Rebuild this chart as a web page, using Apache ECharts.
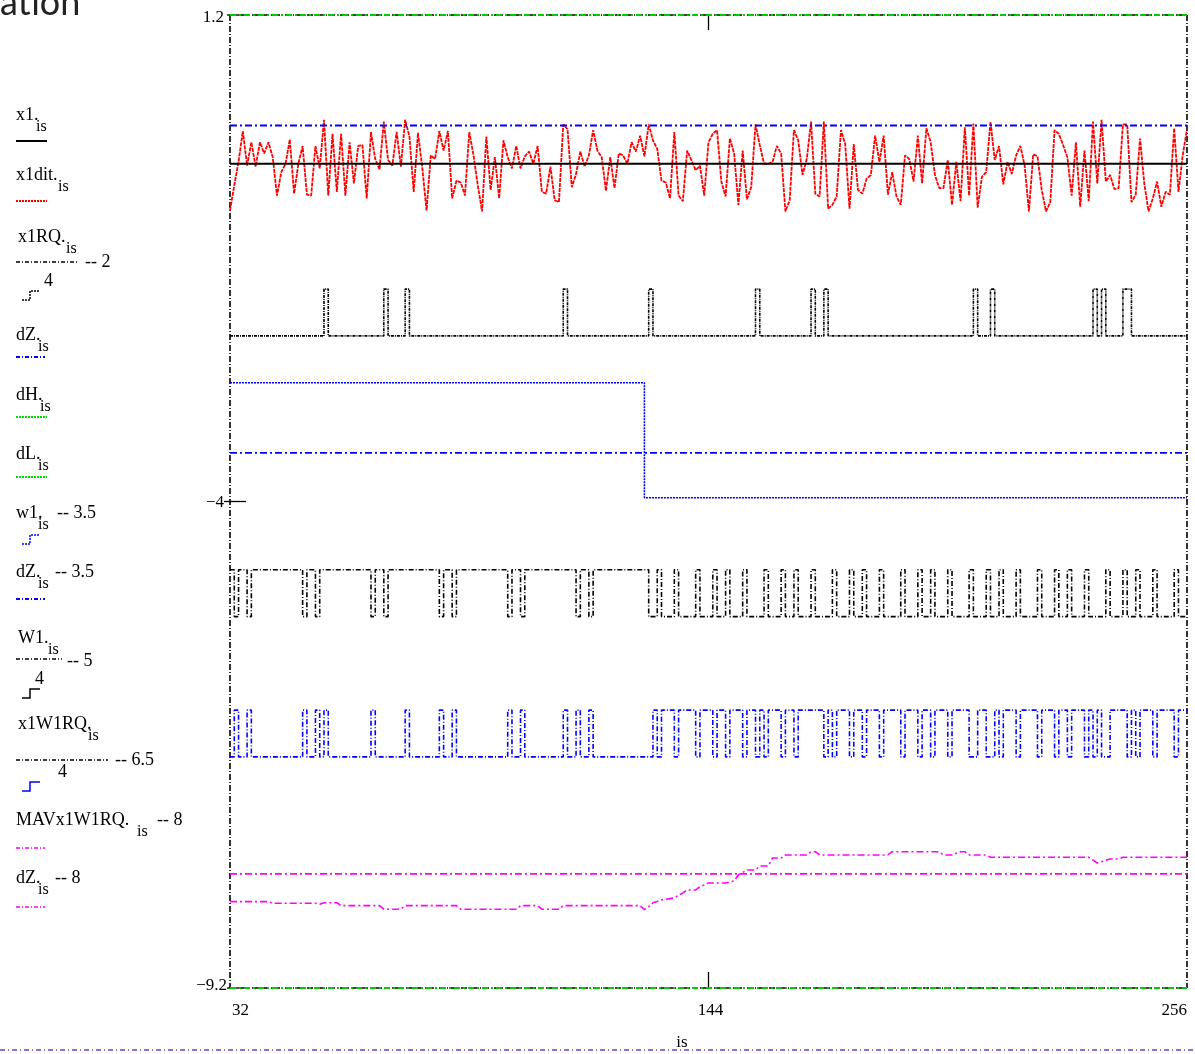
<!DOCTYPE html>
<html><head><meta charset="utf-8">
<script src="https://cdn.jsdelivr.net/npm/echarts@6/dist/echarts.min.js"></script>
<style>html,body{margin:0;padding:0;background:#fff;}#c{width:1195px;height:1054px;}</style>
</head><body><div id="c"></div>
<script>
// ---------------- DATA ----------------
const isStart = 32, isEnd = 256;
const xTickLabels = [32, 144, 256];
const yTickLabels = [1.2, -4, -9.2];
const x1Value = -0.39;
const dZValue = 0.02;
const dHValue = 1.2;
const dLValue = -9.2;
const qLevels = [-0.23, 0.27];          // two quantizer output levels (bit 0 / bit 1)

const x1dit = [
 -0.89,-0.62,-0.37,-0.04,-0.41,-0.16,-0.42,-0.16,-0.28,-0.16,-0.32,-0.73,-0.48,-0.39,-0.13,-0.71,
 -0.39,-0.20,-0.72,-0.73,-0.20,-0.44, 0.08,-0.73,-0.07,-0.69,-0.07,-0.73,-0.16,-0.60,-0.20,-0.19,
 -0.76,-0.05,-0.34,-0.45, 0.06,-0.35,-0.41,-0.05,-0.42, 0.08,-0.10,-0.69,-0.06,-0.43,-0.89,-0.30,
 -0.34,-0.04,-0.25,-0.04,-0.76,-0.57,-0.59,-0.73,-0.05,-0.30,-0.62,-0.90,-0.10,-0.67,-0.32,-0.76,
 -0.14,-0.32,-0.44,-0.20,-0.44,-0.31,-0.26,-0.39,-0.20,-0.69,-0.71,-0.42,-0.78,-0.80, 0.03,-0.02,
 -0.64,-0.50,-0.26,-0.42,-0.30,-0.03,-0.25,-0.32,-0.68,-0.32,-0.65,-0.28,-0.30,-0.39,-0.16,-0.26,
 -0.09,-0.31, 0.03,-0.14,-0.23,-0.57,-0.59,-0.76,-0.05,-0.73,-0.79,-0.25,-0.35,-0.46,-0.41,-0.73,
 -0.16,-0.07,-0.03,-0.58,-0.74,-0.12,-0.28,-0.83,-0.25,-0.77,-0.64, 0.03,-0.19,-0.39,-0.39,-0.37,
 -0.20,-0.28,-0.90,-0.78,-0.03,-0.14,-0.51,-0.34, 0.06,-0.71,-0.74, 0.06,-0.87,-0.83,-0.74,-0.03,
 -0.18,-0.87,-0.18,-0.67,-0.71,-0.55,-0.51,-0.09,-0.37,-0.09,-0.72,-0.48,-0.74,-0.83,-0.30,-0.34,
 -0.58,-0.09,-0.60,-0.01,-0.16,-0.51,-0.65,-0.65,-0.35,-0.83,-0.37,-0.79, 0.00,-0.73, 0.04,-0.86,
 -0.53,-0.48, 0.06,-0.35,-0.20,-0.61,-0.37,-0.50,-0.30,-0.20,-0.41,-0.90,-0.29,-0.31,-0.67,-0.90,
 -0.80,-0.03,-0.07,-0.19,-0.32,-0.73,-0.16,-0.85,-0.25,-0.79, 0.06,-0.60, 0.08,-0.58,-0.51,-0.66,
 -0.65, 0.03, 0.03,-0.80,-0.72,-0.12,-0.60,-0.90,-0.76,-0.58,-0.85,-0.69,-0.72,-0.01,-0.69,-0.30,
 -0.02
];
const x1RQbits = [
 0,0,0,0,0,0,0,0,0,0,0,0,0,0,0,0,
 0,0,0,0,0,0,1,0,0,0,0,0,0,0,0,0,
 0,0,0,0,1,0,0,0,0,1,0,0,0,0,0,0,
 0,0,0,0,0,0,0,0,0,0,0,0,0,0,0,0,
 0,0,0,0,0,0,0,0,0,0,0,0,0,0,1,0,
 0,0,0,0,0,0,0,0,0,0,0,0,0,0,0,0,
 0,0,1,0,0,0,0,0,0,0,0,0,0,0,0,0,
 0,0,0,0,0,0,0,0,0,0,0,1,0,0,0,0,
 0,0,0,0,0,0,0,0,1,0,0,1,0,0,0,0,
 0,0,0,0,0,0,0,0,0,0,0,0,0,0,0,0,
 0,0,0,0,0,0,0,0,0,0,0,0,0,0,1,0,
 0,0,1,0,0,0,0,0,0,0,0,0,0,0,0,0,
 0,0,0,0,0,0,0,0,0,0,1,0,1,0,0,0,
 0,1,1,0,0,0,0,0,0,0,0,0,0,0,0,0,
 0
];
const W1bits = [
 1,0,1,1,0,1,1,1,1,1,1,1,1,1,1,1,
 1,0,1,1,0,1,1,1,1,1,1,1,1,1,1,1,
 1,0,1,1,0,1,1,1,1,1,1,1,1,1,1,1,
 1,0,1,1,0,1,1,1,1,1,1,1,1,1,1,1,
 1,0,1,1,0,1,1,1,1,1,1,1,1,1,1,1,
 1,0,1,1,0,1,1,1,1,1,1,1,1,1,1,1,
 1,1,0,0,1,0,0,0,1,0,0,0,0,1,0,0,
 0,1,0,0,1,0,0,0,1,0,0,0,0,1,0,0,
 0,1,0,0,1,0,0,0,1,0,0,0,0,1,0,0,
 0,1,0,0,1,0,0,0,1,0,0,0,0,1,0,0,
 0,1,0,0,1,0,0,0,1,0,0,0,0,1,0,0,
 0,1,0,0,1,0,0,0,1,0,0,0,0,1,0,0,
 0,1,0,0,1,0,0,0,1,0,0,0,0,1,0,0,
 0,1,0,0,1,0,0,0,1,0,0,0,0,1,0,0,
 0
];
const x1W1RQbits = [
 0,1,0,0,1,0,0,0,0,0,0,0,0,0,0,0,
 0,1,0,0,1,0,1,0,0,0,0,0,0,0,0,0,
 0,1,0,0,0,0,0,0,0,1,0,0,0,0,0,0,
 0,1,0,0,1,0,0,0,0,0,0,0,0,0,0,0,
 0,1,0,0,1,0,0,0,0,0,0,0,0,0,1,0,
 0,1,0,0,1,0,0,0,0,0,0,0,0,0,0,0,
 0,0,0,1,0,1,1,1,0,1,1,1,1,0,1,1,
 1,0,1,1,0,1,1,1,0,1,1,0,1,0,1,1,
 1,0,1,1,0,1,1,1,1,1,1,0,1,0,1,1,
 1,0,1,1,0,1,1,1,0,1,1,1,1,0,1,1,
 1,0,1,1,0,1,1,1,0,1,1,1,1,0,0,1,
 1,0,0,1,0,1,1,1,0,1,1,1,1,0,1,1,
 1,0,1,1,0,1,1,1,0,1,0,1,0,0,1,1,
 1,1,0,1,0,1,1,1,0,1,1,1,1,0,1,1,
 1
];
const w1Is  = [32, 129, 256];
const w1Val = [0.77, -0.46, -0.46];
const mavIs  = [32,41,42,52,53,54,57,58,67,68,72,73,85,86,99,100,104,105,109,110,128,129,130,131,132,133,135,136,137,138,139,141,142,143,144,148,150,151,153,155,156,158,159,161,162,167,168,169,170,186,187,198,199,201,203,204,205,209,210,233,235,236,238,240,241,256];
const mavVal = [-0.277,-0.277,-0.294,-0.294,-0.305,-0.288,-0.288,-0.32,-0.32,-0.358,-0.358,-0.32,-0.32,-0.358,-0.358,-0.32,-0.32,-0.358,-0.358,-0.32,-0.32,-0.363,-0.33,-0.29,-0.275,-0.258,-0.245,-0.237,-0.21,-0.184,-0.152,-0.152,-0.117,-0.098,-0.077,-0.077,-0.056,0.008,0.061,0.061,0.104,0.104,0.19,0.19,0.222,0.222,0.257,0.257,0.222,0.222,0.257,0.257,0.222,0.222,0.257,0.257,0.222,0.222,0.197,0.197,0.136,0.15,0.179,0.179,0.197,0.197];
const off = {x1RQ:-2, w1:-3.5, dZ2:-3.5, W1:-5, x1W1RQ:-6.5, MAV:-8, dZ3:-8};

// ---------------- CHART ----------------
const isArr = x1dit.map((v, i) => isStart + i);
const chart = echarts.init(document.getElementById('c'));
const FONT = '"Liberation Serif", "Times New Roman", serif';
function ln(data, color, width, type, step, z) {
  return {type:'line', data, symbol:'none', showSymbol:false, step: step || false, clip:false,
          lineStyle:{color, width, type}, z: z || 2, silent:true, animation:false};
}
const flat = (v) => [[isStart, v], [isEnd, v]];
const DD = [7,3,2,3];
const series = [
  ln(isArr.map((k,i)=>[k, x1dit[i]]), '#ff0000', 1.8, [4,1], false, 2),
  ln(flat(x1Value), '#000000', 1.8, 'solid', false, 3),
  ln(isArr.map((k,i)=>[k, qLevels[x1RQbits[i]] + off.x1RQ]), '#000000', 1.6, [3,1,1,1], 'end', 2),
  ln(flat(dZValue), '#0000ff', 2, DD, false, 3),
  ln(flat(dHValue), '#00cc00', 2, [6,3,2,3], false, 4),
  ln(flat(dLValue), '#00cc00', 2, [6,3,2,3], false, 4),
  ln(w1Is.map((k,i)=>[k, w1Val[i] + off.w1]), '#0000ff', 1.6, [2,1], 'end', 2),
  ln(flat(dZValue + off.dZ2), '#0000ff', 1.6, DD, false, 2),
  ln(isArr.map((k,i)=>[k, qLevels[W1bits[i]] + off.W1]), '#000000', 1.6, [5,2,1,2], 'end', 2),
  ln(isArr.map((k,i)=>[k, qLevels[x1W1RQbits[i]] + off.x1W1RQ]), '#0000ff', 1.6, [5,2,1,2], 'end', 2),
  ln(mavIs.map((k,i)=>[k, mavVal[i] + off.MAV]), '#ff00ff', 1.6, DD, false, 2),
  ln(flat(dZValue + off.dZ3), '#ff00ff', 1.6, DD, false, 2)
];
const hiddenAxis = {axisLine:{show:false}, axisTick:{show:false}, axisLabel:{show:false}, splitLine:{show:false}};
chart.setOption({
  animation:false,
  backgroundColor:'#ffffff',
  grid:{left:230, top:15, width:957, height:973},
  xAxis:Object.assign({type:'value', min:isStart, max:isEnd}, hiddenAxis),
  yAxis:Object.assign({type:'value', min:yTickLabels[2], max:yTickLabels[0]}, hiddenAxis),
  series
});

// ---------------- DECORATION ----------------
const P = (x, y) => chart.convertToPixel({gridIndex:0}, [x, y]);
const g = [];
const [L, T] = P(isStart, yTickLabels[0]);
const [R, B] = P(isEnd, yTickLabels[2]);
const line = (x1, y1, x2, y2, stroke, w, dash, z) => g.push({type:'line', silent:true, z: z||1,
  shape:{x1, y1, x2, y2}, style:{stroke, lineWidth:w, lineDash:dash || null}});
const text = (t, x, y, size, align, color, font) => g.push({type:'text', silent:true, z:10,
  style:{text:t, x, y, font: size + 'px ' + (font || FONT), fill: color || '#000', align: align || 'left', verticalAlign:'middle'}});
// frame
line(L, T, L, B, '#000', 1.6, [6,2,1,2]);
line(R, T, R, B, '#000', 1.6, [6,2,1,2]);
line(L, T, R, T, '#000', 1.6, [6,2,1,2], 0);
line(L, B, R, B, '#000', 1.6, [6,2,1,2], 0);
// ticks
const [tx] = P(xTickLabels[1], 0);
line(tx, B, tx, B - 16, '#000', 1.3);
line(tx, T, tx, T + 15, '#000', 1.3);
const [, ty] = P(isStart, yTickLabels[1]);
line(L - 6, ty, L + 16, ty, '#000', 1.3);
line(L - 3, T, L + 8, T, '#000', 1.3);
line(L - 3, B, L + 8, B, '#000', 1.3);
// tick labels
const fmt = v => (v < 0 ? '\u2212' : '') + Math.abs(v);
text(fmt(yTickLabels[0]), L - 6, T + 3, 17, 'right');
text(fmt(yTickLabels[1]), L - 6, ty + 1, 17, 'right');
text(fmt(yTickLabels[2]), L - 3, B - 2, 17, 'right');
text(String(xTickLabels[0]), L + 2, B + 23, 17, 'left');
text(String(xTickLabels[1]), tx + 2, B + 23, 17, 'center');
text(String(xTickLabels[2]), R, B + 23, 17, 'right');
text('is', 682, 1043, 17, 'center');
line(0, 1050, 1195, 1050, '#6a3fc4', 1.3, [5,3,1,3]);
// cut title
g.push({type:'text', silent:true, style:{text:'ation', x:0, y:21, font:'36px "Lato", "DejaVu Sans", sans-serif', fill:'#222', align:'left', verticalAlign:'bottom'}});

// legend
function stepIcon(x, y, color, dash) {
  g.push({type:'polyline', silent:true, shape:{points:[[x, y+9],[x+8, y+9],[x+8, y],[x+18, y]]},
          style:{stroke:color, lineWidth:1.5, fill:null, lineDash:dash}});
}
const legend = [
  {t:'x1.', y:115, sx:36, sample:{y:141, x2:47, c:'#000', d:null, w:2}},
  {t:'x1dit.', y:175, sx:58, sample:{y:201, x2:47, c:'#ff0000', d:[2,1], w:2}},
  {t:'x1RQ.', y:237, sx:66, x:18, sample:{y:262, x2:78, c:'#000', d:[4,2,1,2], w:1.5}, extra:{t:'-- 2', x:85, y:262}, four:{x:44, y:281}, step:{x:22, y:291, c:'#000', d:[2,1]}},
  {t:'dZ.', y:335, sx:38, sample:{y:357, x2:45, c:'#0000ff', d:[4,2,1,2], w:2}},
  {t:'dH.', y:395, sx:40, sample:{y:417, x2:47, c:'#00dd00', d:[2,1], w:2}},
  {t:'dL.', y:454, sx:38, sample:{y:477, x2:47, c:'#00dd00', d:[2,1], w:2}},
  {t:'w1.', y:513, sx:38, extra:{t:'-- 3.5', x:57, y:513}, step:{x:22, y:535, c:'#0000ff', d:[2,1]}},
  {t:'dZ.', y:572, sx:38, extra:{t:'-- 3.5', x:55, y:572}, sample:{y:599, x2:45, c:'#0000ff', d:[4,2,1,2], w:2}},
  {t:'W1.', y:638, sx:48, x:18, sample:{y:659, x2:62, c:'#000', d:[4,2,1,2], w:1.5}, extra:{t:'-- 5', x:67, y:661}, four:{x:35, y:679}, step:{x:22, y:689, c:'#000', d:null}},
  {t:'x1W1RQ.', y:724, sx:88, x:18, sample:{y:760, x2:108, c:'#000', d:[4,2,1,2], w:1.5}, extra:{t:'-- 6.5', x:115, y:760}, four:{x:58, y:772}, step:{x:22, y:782, c:'#0000ff', d:null}},
  {t:'MAVx1W1RQ.', y:820, sx:137, extra:{t:'-- 8', x:157, y:820}, sample:{y:848, x2:45, c:'#ff00ff', d:[4,2,1,2], w:1.5}},
  {t:'dZ.', y:878, sx:38, extra:{t:'-- 8', x:55, y:878}, sample:{y:907, x2:45, c:'#ff00ff', d:[4,2,1,2], w:1.5}}
];
legend.forEach(it => {
  text(it.t, it.x || 16, it.y, 18, 'left');
  text('is', it.sx, it.y + 12, 16, 'left');
  if (it.sample) line(16, it.sample.y, it.sample.x2, it.sample.y, it.sample.c, it.sample.w, it.sample.d, 5);
  if (it.extra) text(it.extra.t, it.extra.x, it.extra.y, 18, 'left');
  if (it.four) text('4', it.four.x, it.four.y, 18, 'left');
  if (it.step) stepIcon(it.step.x, it.step.y, it.step.c, it.step.d);
});
chart.setOption({graphic:{elements:g}});
</script>
</body></html>
